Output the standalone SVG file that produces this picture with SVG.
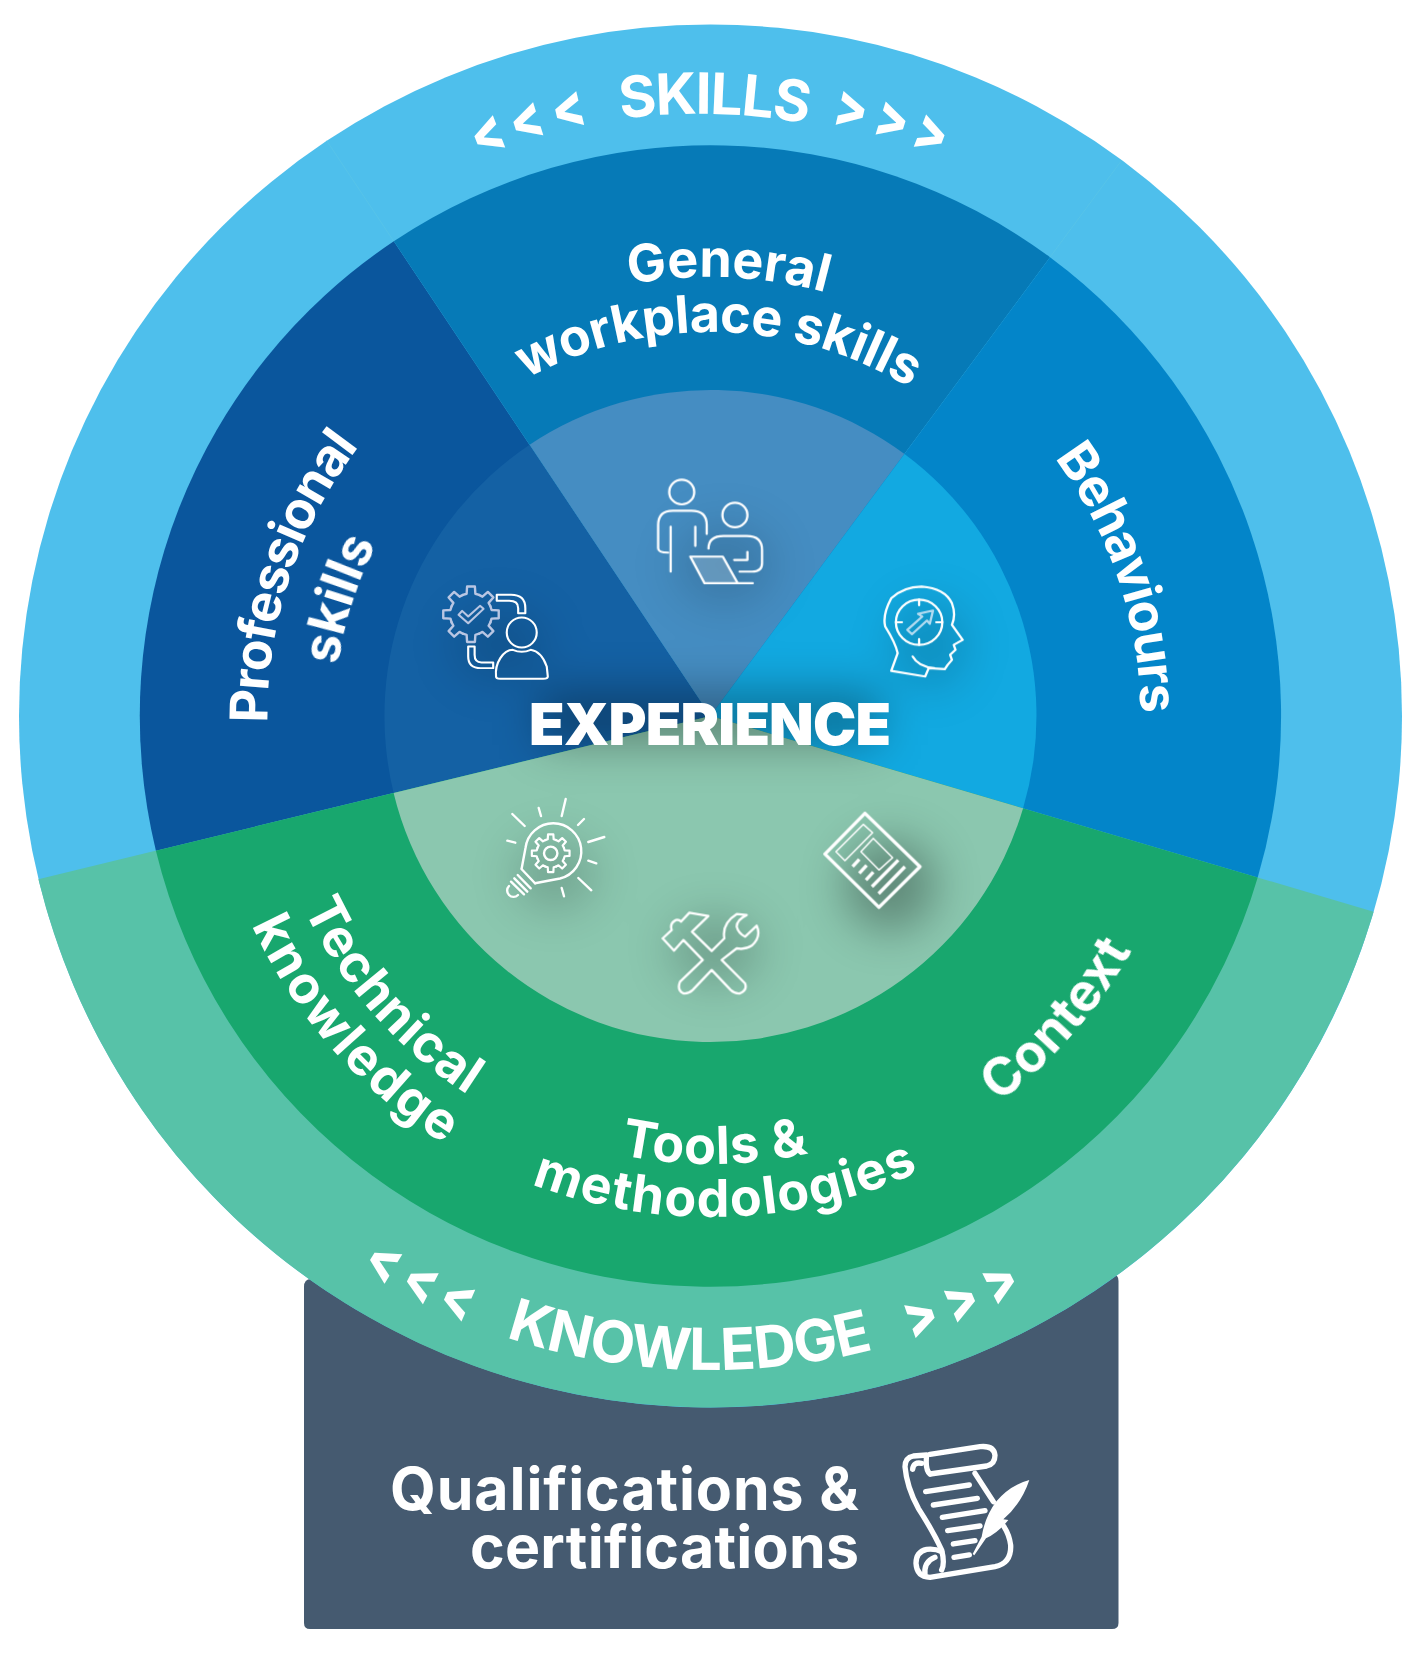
<svg xmlns="http://www.w3.org/2000/svg" xmlns:xlink="http://www.w3.org/1999/xlink" width="1424" height="1659" viewBox="0 0 1424 1659">
<style>
text{font-family:"Inter","Lato","Liberation Sans",sans-serif;font-weight:700;fill:#fff}
.ic{fill:none;stroke:#fff;stroke-linecap:round;stroke-linejoin:round}
.chev{font-size:60px;text-anchor:middle;font-weight:800}
</style>
<defs>
<filter id="blur" x="-80%" y="-80%" width="260%" height="260%"><feGaussianBlur stdDeviation="22"/></filter>
<clipPath id="innerClip"><circle cx="710.5" cy="716" r="326"/></clipPath>
<path id="tooth" d="M-8.04 -19.4L-4.37 -20.54L-3.9 -27.73L3.9 -27.73L4.37 -20.54L8.04 -19.4"/>
<g id="gear"><use href="#tooth"/><use href="#tooth" transform="rotate(45)"/><use href="#tooth" transform="rotate(90)"/><use href="#tooth" transform="rotate(135)"/><use href="#tooth" transform="rotate(180)"/><use href="#tooth" transform="rotate(225)"/><use href="#tooth" transform="rotate(270)"/><use href="#tooth" transform="rotate(315)"/></g>
<path id="a602" d="M108.5 716A602 602 0 0 1 1312.5 716"/>
<path id="a439" d="M271.5 716A439 439 0 0 1 1149.5 716"/>
<path id="a384" d="M326.5 716A384 384 0 0 1 1094.5 716"/>
<path id="a430" d="M280.5 716A430 430 0 0 1 1140.5 716"/>
<path id="a443" d="M267.5 716A443 443 0 0 1 1153.5 716"/>
<path id="a376" d="M334.5 716A376 376 0 0 1 1086.5 716"/>
<path id="b450" d="M260.5 716A450 450 0 0 0 1160.5 716"/>
<path id="b504" d="M206.5 716A504 504 0 0 0 1214.5 716"/>
<path id="b448" d="M262.5 716A448 448 0 0 0 1158.5 716"/>
<path id="b501" d="M209.5 716A501 501 0 0 0 1211.5 716"/>
<path id="b482" d="M228.5 716A482 482 0 0 0 1192.5 716"/>
<path id="b654" d="M56.5 716A654 654 0 0 0 1364.5 716"/>
</defs>
<rect width="1424" height="1659" fill="#fff"/>

<g id="qualifications">
<path d="M304 1287Q304 1279 311 1279L1112 1274Q1118.5 1274 1118.5 1281V1623Q1118.5 1629 1112 1629H310Q304 1629 304 1623Z" fill="#455a70"/>
<text x="859" y="1510" font-size="59" text-anchor="end" textLength="469">Qualifications &amp;</text>
<text x="859" y="1568" font-size="59" text-anchor="end" textLength="389">certifications</text>
<g transform="translate(880 1420) scale(.3333)" class="ic" stroke-width="16">
<path d="M150 103L300 80Q342 76 345 106Q345 133 320 138L150 162"/>
<path d="M150 162Q135 150 140 105L100 108Q75 113 75 140Q80 200 115 265Q160 335 185 390Q195 430 185 450"/>
<path d="M98 148Q100 125 125 130"/>
<path d="M185 395Q165 385 140 388Q108 395 108 430Q110 470 150 472L345 440Q395 430 392 375Q388 345 372 320M340 245L285 160"/>
<path d="M135 468Q130 425 165 412"/>
<path d="M137 215L268 195M160 255L292 235M187 292L315 272M203 332L300 318M220 372L285 362M222 412L268 405"/>
<path d="M448 180Q390 195 348 245Q315 290 305 350L278 402L283 406L318 355Q355 338 385 300L370 298Q425 250 448 180Z" fill="#fff" stroke="none"/>
</g>
</g>

<g id="skills-ring">
<circle cx="710.5" cy="716" r="691.5" fill="#4ebfec"/>
<path d="M326.7 140.7L393.8 241.3M1121.9 160L1050 257.2" stroke="#5cc6e6" stroke-width="1" stroke-opacity=".6" fill="none"/>
</g>
<g id="knowledge-ring">
<path d="M710.5 716L38.4 879.2A691.5 691.5 0 0 0 1373.6 911.7Z" fill="#57c2a8"/>
</g>

<g id="sector-professional"><path d="M710.5 716L155.9 850.7A570.6 570.6 0 0 1 393.8 241.3Z" fill="#0a569d"/><path d="M710.5 716L393.6 792.9A326 326 0 0 1 529.6 444.8Z" fill="#1461a4"/></g>
<g id="sector-general"><path d="M710.5 716L393.8 241.3A570.6 570.6 0 0 1 1050 257.2Z" fill="#067ab7"/><path d="M710.5 716L529.6 444.8A326 326 0 0 1 904.5 453.9Z" fill="#458dc2"/></g>
<g id="sector-behaviours"><path d="M710.5 716L1050 257.2A570.6 570.6 0 0 1 1257.7 877.5Z" fill="#0385c9"/><path d="M710.5 716L904.5 453.9A326 326 0 0 1 1023.1 808.3Z" fill="#12a9e1"/></g>
<g id="sector-knowledge"><path d="M710.5 716L155.9 850.7A570.6 570.6 0 0 0 1257.7 877.5Z" fill="#18a76e"/><path d="M710.5 716L393.6 792.9A326 326 0 0 0 1023.1 808.3Z" fill="#8bc7af"/></g>

<g id="shadows" clip-path="url(#innerClip)">
<g filter="url(#blur)" fill="#000">
<rect x="540" y="690" width="340" height="55" opacity=".3"/>
<ellipse cx="725" cy="565" rx="50" ry="42" opacity=".13"/>
<ellipse cx="930" cy="645" rx="38" ry="44" opacity=".14"/>
<ellipse cx="500" cy="645" rx="48" ry="38" opacity=".12"/>
<ellipse cx="555" cy="875" rx="42" ry="36" opacity=".16"/>
<ellipse cx="890" cy="885" rx="46" ry="46" opacity=".3"/>
<ellipse cx="715" cy="950" rx="46" ry="36" opacity=".18"/>
</g>
</g>

<g id="label-skills">
<text font-size="57" transform="rotate(1.1 715 100) rotate(.4 710.5 716)"><textPath href="#a602" startOffset="50%" text-anchor="middle" textLength="188">SKILLS</textPath></text>
<text class="chev" transform="rotate(-21 710.5 716) translate(710.5 112) scale(.8 1)">&lt;</text>
<text class="chev" transform="rotate(-17.2 710.5 716) translate(710.5 112) scale(.8 1)">&lt;</text>
<text class="chev" transform="rotate(-13.2 710.5 716) translate(710.5 112) scale(.8 1)">&lt;</text>
<text class="chev" transform="rotate(13.1 710.5 716) translate(710.5 112) scale(.8 1)">&gt;</text>
<text class="chev" transform="rotate(17 710.5 716) translate(710.5 112) scale(.8 1)">&gt;</text>
<text class="chev" transform="rotate(20.8 710.5 716) translate(710.5 112) scale(.8 1)">&gt;</text>
</g>
<g id="label-knowledge">
<text font-size="58" transform="rotate(1.9 710.5 716)"><textPath href="#b654" startOffset="50%" text-anchor="middle" textLength="373">KNOWLEDGE</textPath></text>
<text class="chev" transform="rotate(30.9 710.5 716) translate(710.5 1371) scale(.8 1)">&lt;</text>
<text class="chev" transform="rotate(27.1 710.5 716) translate(710.5 1371) scale(.8 1)">&lt;</text>
<text class="chev" transform="rotate(23.4 710.5 716) translate(710.5 1371) scale(.8 1)">&lt;</text>
<text class="chev" transform="rotate(-19.3 710.5 716) translate(710.5 1371) scale(.8 1)">&gt;</text>
<text class="chev" transform="rotate(-23.2 710.5 716) translate(710.5 1371) scale(.8 1)">&gt;</text>
<text class="chev" transform="rotate(-27.1 710.5 716) translate(710.5 1371) scale(.8 1)">&gt;</text>
</g>

<g id="label-general">
<text font-size="52" transform="rotate(2.3 710.5 716)"><textPath href="#a439" startOffset="50%" text-anchor="middle" textLength="198">General</textPath></text>
<text font-size="52" transform="rotate(1.3 710.5 716)"><textPath href="#a384" startOffset="50%" text-anchor="middle" textLength="402">workplace skills</textPath></text>
</g>
<g id="label-behaviours"><text font-size="52" transform="rotate(71.4 710.5 716)"><textPath href="#a430" startOffset="50%" text-anchor="middle" textLength="274">Behaviours</textPath></text></g>
<g id="label-professional">
<text font-size="52" transform="rotate(-71.7 710.5 716)"><textPath href="#a443" startOffset="50%" text-anchor="middle" textLength="297">Professional</textPath></text>
<text font-size="52" transform="rotate(-72.5 710.5 716)"><textPath href="#a376" startOffset="50%" text-anchor="middle" textLength="128">skills</textPath></text>
</g>
<g id="label-technical">
<text font-size="52" transform="rotate(48.7 710.5 716)"><textPath href="#b450" startOffset="50%" text-anchor="middle" textLength="252">Technical</textPath></text>
<text font-size="52" transform="rotate(48.7 710.5 716)"><textPath href="#b504" startOffset="50%" text-anchor="middle" textLength="296">knowledge</textPath></text>
</g>
<g id="label-tools">
<text font-size="52" transform="rotate(-.5 710.5 716)"><textPath href="#b448" startOffset="50%" text-anchor="middle" textLength="190">Tools &amp;</textPath></text>
<text font-size="52" transform="rotate(-1.8 710.5 716)"><textPath href="#b501" startOffset="50%" text-anchor="middle" textLength="398">methodologies</textPath></text>
</g>
<g id="label-context"><text font-size="52" transform="rotate(-48.8 710.5 716)"><textPath href="#b482" startOffset="50%" text-anchor="middle" textLength="204">Context</textPath></text></g>

<g id="icon-people" transform="translate(420 460) scale(.357 .333)" class="ic" stroke-width="6.5">
<ellipse cx="733" cy="96" rx="35" ry="37"/>
<path d="M803 222V195Q803 152 760 152H708Q667 152 667 195V265Q667 278 695 278"/>
<path d="M702 200V335M771 200V258"/>
<ellipse cx="882" cy="165" rx="35" ry="37"/>
<path d="M808 266Q808 228 850 228H915Q958 228 958 270V310Q958 335 930 335H895"/>
<path d="M880 300H917V276"/>
<path d="M757 290H848L890 370H797Z" fill="#fff" fill-opacity=".2"/>
<path d="M890 370H932"/>
</g>

<g id="icon-professional">
<g class="ic" stroke-width="2.4" style="stroke:#b9c6e3" transform="translate(471 614.3)"><use href="#gear"/></g>
<g transform="translate(420 460) scale(.357 .333)" class="ic" stroke-width="6">
<path d="M108 465L135 490L178 447L168 438L135 470L118 453Z" style="stroke:#b9c6e3"/>
<path d="M215 405H255Q295 405 295 445V460H275V445Q275 423 250 423H215Z"/>
<path d="M135 560V590Q135 625 170 625H205V608H172Q153 608 153 585V560Z"/>
<ellipse cx="285" cy="518" rx="42" ry="45"/>
<path d="M213 650Q210 620 225 595Q240 570 260 570Q285 582 310 570Q340 575 355 620L358 650Q358 657 345 657H225Q213 657 213 650Z"/>
</g>
</g>

<g id="icon-behaviours" transform="translate(420 460) scale(.357 .333)" class="ic" stroke-width="6.5">
<path d="M1320 633L1338 580Q1332 550 1303 500Q1295 465 1320 415Q1355 380 1405 380Q1470 385 1490 430Q1502 465 1490 495L1520 540L1495 555L1500 570L1485 585L1490 600L1478 615L1470 628L1425 625L1415 650Z"/>
<path d="M1380 590Q1395 620 1440 625"/>
<ellipse cx="1398" cy="487" rx="65" ry="68"/>
<path d="M1398 419V436M1398 538V555M1333 487H1350M1446 487H1463"/>
<path d="M1365 510L1378 523L1420 482L1428 492L1437 452L1395 462L1407 470Z" style="stroke:#b3dbf0"/>
</g>

<g id="icon-bulb">
<g class="ic" stroke-width="2.4">
<path d="M561.7 816L565.7 799M541 816L538.7 808M524.7 826L512.3 814M515.3 842.7L507.3 840.7M578 825L584 819M588.3 842L604.3 837M588.3 860.7L596.3 863.3M578.3 878L591.3 890.3M561.7 888L564 896.3"/>
<path d="M521.7 868.3L525.5 848A28 28 0 1 1 560 878.5L535 883.3"/>
<path d="M521.5 869L535 883.3M517.7 875L530.7 888.3M514.3 878.3L527.3 891.7M511 881.7L524 894.3M509 886A6 6 0 0 0 518 895"/>
<circle cx="550.7" cy="853.3" r="6.7"/>
<g transform="translate(550.7 853.3) scale(.68)"><use href="#gear" stroke-width="3.2"/></g>
</g>
</g>

<g id="icon-tools" transform="translate(480 780) scale(.3333)" class="ic" stroke-width="7">
<path d="M548 475L575 450Q568 430 588 420Q597 418 603 425L628 398L685 408L636 455L695 513L733 475Q725 430 770 402L800 405Q770 420 770 440Q775 460 795 470L830 437Q845 470 815 497Q795 510 770 505L725 540L795 610Q803 630 780 640Q765 642 752 630L695 570L638 630Q625 642 610 640Q590 630 600 605L668 540L610 480L582 512Z"/>
</g>

<g id="icon-newspaper" transform="translate(480 780) scale(.3333)" class="ic">
<path d="M1155 100L1320 260L1197 382L1035 222Z" stroke-width="10"/>
<path d="M1150 133L1178 158L1095 242L1068 215Z" stroke-width="4.5"/>
<path d="M1180 175L1238 233L1197 270L1143 215Z" stroke-width="4.5"/>
<path d="M1118 260L1138 238M1138 280L1160 256M1158 300L1180 276M1176 320L1255 240M1196 341L1275 260" stroke-width="10" stroke-linecap="butt"/>
</g>

<g id="label-experience"><text x="710" y="745" font-size="58" text-anchor="middle" textLength="362" style="font-weight:900">EXPERIENCE</text></g>
</svg>
